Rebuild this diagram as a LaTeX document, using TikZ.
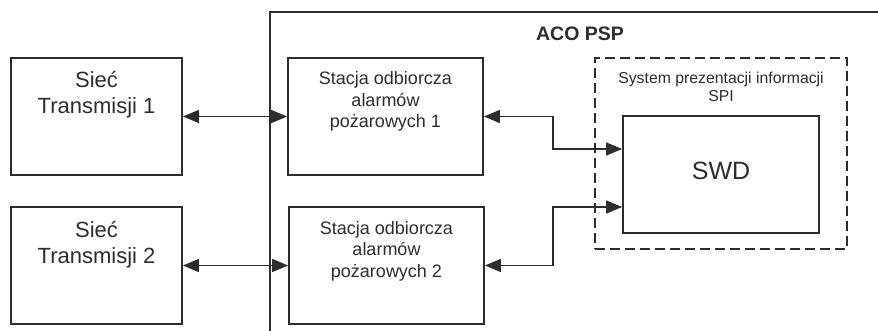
\documentclass[tikz,border=0pt]{standalone}
\usepackage{fontspec}
\setmainfont{Liberation Sans}
\usetikzlibrary{arrows.meta}
\definecolor{ink}{RGB}{45,45,45}
\tikzset{
  box/.style={draw=ink, line width=1.8pt, rectangle, inner sep=0pt},
  txt/.style={text=ink, anchor=base, align=center, inner sep=0pt},
  link/.style={draw=ink, line width=1.5pt, {Triangle[length=16pt,width=13pt]}-{Triangle[length=16pt,width=13pt]}},
}
\begin{document}
\begin{tikzpicture}[x=1pt,y=-1pt]
\useasboundingbox (0,0) rectangle (878,331);
% ACO PSP frame (only top and left edges visible)
\draw[ink, line width=1.4pt] (270,331) -- (270,12) -- (878,12);
\node[txt, font=\fontsize{19.5}{23}\selectfont\bfseries] (aco) at (580,40.5) {ACO PSP};
% left boxes
\node[box, minimum width=171pt, minimum height=117pt] (n1) at (96.5,116.5) {};
\node[box, minimum width=171pt, minimum height=117pt] (n2) at (96.5,265.5) {};
\node[txt, font=\fontsize{22}{26}\selectfont] (n1t) at (96.5,114) {Sieć\\Transmisji 1};
\node[txt, font=\fontsize{22}{26}\selectfont] (n2t) at (96.5,263) {Sieć\\Transmisji 2};
% station boxes
\node[box, minimum width=195pt, minimum height=117pt] (s1) at (385.5,116.5) {};
\node[box, minimum width=195pt, minimum height=117pt] (s2) at (386.5,265.5) {};
\node[txt, font=\fontsize{18}{21.5}\selectfont] (s1t) at (385.5,128) {Stacja odbiorcza\\alarmów\\pożarowych 1};
\node[txt, font=\fontsize{18}{21.5}\selectfont] (s2t) at (386.5,277) {Stacja odbiorcza\\alarmów\\pożarowych 2};
% SPI dashed box
\node[draw=ink, line width=1.6pt, dash pattern=on 10pt off 5pt, minimum width=252pt, minimum height=191pt, inner sep=0pt] (spi) at (721,153.5) {};
\node[txt, font=\fontsize{15.8}{18}\selectfont] (spit) at (721,102) {System prezentacji informacji\\SPI};
% SWD
\node[box, minimum width=196pt, minimum height=117pt] (swd) at (721,174.5) {};
\node[txt, font=\fontsize{25}{30}\selectfont] (swdt) at (721,180) {SWD};
% connectors
\coordinate (j1) at (553,149);
\coordinate (j2) at (553,207);
\draw[link] (n1.east) -- (s1.west);
\draw[link] (n2.east) -- (s2.west);
\draw[link] (s1.east) -| (j1) -- (j1 -| swd.west);
\draw[link] (s2.east) -| (j2) -- (j2 -| swd.west);
\end{tikzpicture}
\end{document}
